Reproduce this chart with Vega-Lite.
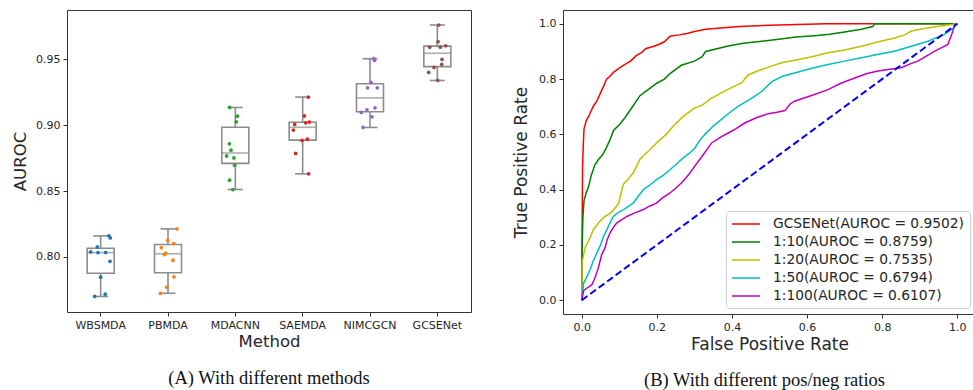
{
  "$schema": "https://vega.github.io/schema/vega-lite/v6.json",
  "background": "white",
  "padding": {"left": 12, "top": 9, "right": 0, "bottom": 0},
  "config": {
    "font": "DejaVu Sans",
    "view": {"stroke": "#333333", "strokeWidth": 1},
    "axis": {"grid": false, "domain": false, "tickColor": "#333333", "tickSize": 4, "labelFontSize": 11, "labelColor": "#262626", "titleColor": "#262626", "titleFontWeight": "normal", "labelPadding": 3, "titlePadding": 4}
  },
  "resolve": {"scale": {"color": "independent"}, "legend": {"color": "independent"}},
  "spacing": 40,
  "hconcat": [
    {
      "width": 404,
      "height": 302,
      "title": {"text": "(A) With different methods", "orient": "bottom", "font": "Liberation Serif", "fontSize": 18.5, "fontWeight": "normal", "color": "#111111", "frame": "group", "anchor": "middle", "offset": 19},
      "data": {"values": [
        {"method": "WBSMDA", "auroc": 0.8160, "jitter": 0.123},
        {"method": "WBSMDA", "auroc": 0.8144, "jitter": 0.142},
        {"method": "WBSMDA", "auroc": 0.8076, "jitter": -0.050},
        {"method": "WBSMDA", "auroc": 0.8038, "jitter": -0.148},
        {"method": "WBSMDA", "auroc": 0.8033, "jitter": -0.040},
        {"method": "WBSMDA", "auroc": 0.8033, "jitter": 0.074},
        {"method": "WBSMDA", "auroc": 0.7967, "jitter": 0.138},
        {"method": "WBSMDA", "auroc": 0.7846, "jitter": 0.0},
        {"method": "WBSMDA", "auroc": 0.7700, "jitter": -0.089},
        {"method": "WBSMDA", "auroc": 0.7717, "jitter": 0.068},
        {"method": "PBMDA", "auroc": 0.8213, "jitter": 0.134},
        {"method": "PBMDA", "auroc": 0.8125, "jitter": -0.004},
        {"method": "PBMDA", "auroc": 0.8102, "jitter": 0.085},
        {"method": "PBMDA", "auroc": 0.8071, "jitter": -0.098},
        {"method": "PBMDA", "auroc": 0.8030, "jitter": -0.034},
        {"method": "PBMDA", "auroc": 0.8018, "jitter": -0.053},
        {"method": "PBMDA", "auroc": 0.7975, "jitter": 0.074},
        {"method": "PBMDA", "auroc": 0.7848, "jitter": 0.089},
        {"method": "PBMDA", "auroc": 0.7770, "jitter": -0.019},
        {"method": "PBMDA", "auroc": 0.7724, "jitter": -0.113},
        {"method": "MDACNN", "auroc": 0.9135, "jitter": -0.085},
        {"method": "MDACNN", "auroc": 0.9069, "jitter": 0.030},
        {"method": "MDACNN", "auroc": 0.9026, "jitter": 0.015},
        {"method": "MDACNN", "auroc": 0.8859, "jitter": -0.089},
        {"method": "MDACNN", "auroc": 0.8811, "jitter": -0.065},
        {"method": "MDACNN", "auroc": 0.8767, "jitter": -0.129},
        {"method": "MDACNN", "auroc": 0.8752, "jitter": -0.021},
        {"method": "MDACNN", "auroc": 0.8697, "jitter": -0.010},
        {"method": "MDACNN", "auroc": 0.8583, "jitter": -0.085},
        {"method": "MDACNN", "auroc": 0.8512, "jitter": -0.036},
        {"method": "SAEMDA", "auroc": 0.9214, "jitter": 0.085},
        {"method": "SAEMDA", "auroc": 0.9071, "jitter": 0.025},
        {"method": "SAEMDA", "auroc": 0.9024, "jitter": 0.099},
        {"method": "SAEMDA", "auroc": 0.9018, "jitter": 0.045},
        {"method": "SAEMDA", "auroc": 0.9006, "jitter": -0.119},
        {"method": "SAEMDA", "auroc": 0.8963, "jitter": -0.138},
        {"method": "SAEMDA", "auroc": 0.8894, "jitter": 0.070},
        {"method": "SAEMDA", "auroc": 0.8885, "jitter": -0.009},
        {"method": "SAEMDA", "auroc": 0.8786, "jitter": -0.104},
        {"method": "SAEMDA", "auroc": 0.8631, "jitter": 0.089},
        {"method": "NIMCGCN", "auroc": 0.9505, "jitter": 0.053},
        {"method": "NIMCGCN", "auroc": 0.9492, "jitter": 0.068},
        {"method": "NIMCGCN", "auroc": 0.9325, "jitter": 0.015},
        {"method": "NIMCGCN", "auroc": 0.9284, "jitter": -0.036},
        {"method": "NIMCGCN", "auroc": 0.9284, "jitter": 0.108},
        {"method": "NIMCGCN", "auroc": 0.9132, "jitter": 0.074},
        {"method": "NIMCGCN", "auroc": 0.9117, "jitter": -0.045},
        {"method": "NIMCGCN", "auroc": 0.9097, "jitter": -0.129},
        {"method": "NIMCGCN", "auroc": 0.9064, "jitter": 0.030},
        {"method": "NIMCGCN", "auroc": 0.8983, "jitter": -0.104},
        {"method": "GCSENet", "auroc": 0.9761, "jitter": 0.021},
        {"method": "GCSENet", "auroc": 0.9634, "jitter": 0.010},
        {"method": "GCSENet", "auroc": 0.9593, "jitter": -0.113},
        {"method": "GCSENet", "auroc": 0.9593, "jitter": 0.045},
        {"method": "GCSENet", "auroc": 0.9603, "jitter": 0.125},
        {"method": "GCSENet", "auroc": 0.9500, "jitter": 0.070},
        {"method": "GCSENet", "auroc": 0.9462, "jitter": 0.065},
        {"method": "GCSENet", "auroc": 0.9439, "jitter": -0.049},
        {"method": "GCSENet", "auroc": 0.9401, "jitter": -0.128},
        {"method": "GCSENet", "auroc": 0.9340, "jitter": 0.006}
      ]},
      "layer": [
        {
          "mark": {"type": "boxplot", "extent": "min-max", "size": 27,
            "box": {"fill": "white", "stroke": "#8c8c8c", "strokeWidth": 1.6},
            "median": {"color": "#8c8c8c", "thickness": 1.6},
            "rule": {"color": "#8c8c8c", "strokeWidth": 1.6},
            "ticks": {"color": "#8c8c8c", "size": 15, "thickness": 1.6}},
          "encoding": {
            "x": {"field": "method", "type": "nominal", "sort": ["WBSMDA", "PBMDA", "MDACNN", "SAEMDA", "NIMCGCN", "GCSENet"], "scale": {"paddingInner": 0, "paddingOuter": 0}, "axis": {"title": "Method", "labelAngle": 0, "titleFontSize": 16.5, "titlePadding": 3}},
            "y": {"field": "auroc", "type": "quantitative", "scale": {"domain": [0.7582, 0.9875], "nice": false, "zero": false}, "axis": {"title": "AUROC", "values": [0.8, 0.85, 0.9, 0.95], "format": ".2f", "titleFontSize": 16.5, "titlePadding": 7}}
          }
        },
        {
          "mark": {"type": "circle", "size": 14, "opacity": 1},
          "encoding": {
            "x": {"field": "method", "type": "nominal", "sort": ["WBSMDA", "PBMDA", "MDACNN", "SAEMDA", "NIMCGCN", "GCSENet"]},
            "xOffset": {"field": "jitter", "type": "quantitative", "scale": {"domain": [-0.5, 0.5]}},
            "y": {"field": "auroc", "type": "quantitative"},
            "color": {"field": "method", "type": "nominal", "scale": {"domain": ["WBSMDA", "PBMDA", "MDACNN", "SAEMDA", "NIMCGCN", "GCSENet"], "range": ["#1f77b4", "#ff7f0e", "#2ca02c", "#d62728", "#9467bd", "#8c564b"]}, "legend": null}
          }
        }
      ]
    },
    {
      "width": 413,
      "height": 304,
      "title": {"text": "(B) With different pos/neg ratios", "orient": "bottom", "font": "Liberation Serif", "fontSize": 18.5, "fontWeight": "normal", "color": "#111111", "frame": "group", "anchor": "middle", "offset": 19, "dx": -5},
      "layer": [
        {
          "data": {"values": [
            {"model": "GCSENet(AUROC = 0.9502)", "fpr": 0, "tpr": 0},
            {"model": "GCSENet(AUROC = 0.9502)", "fpr": 0.001, "tpr": 0.25},
            {"model": "GCSENet(AUROC = 0.9502)", "fpr": 0.002, "tpr": 0.48},
            {"model": "GCSENet(AUROC = 0.9502)", "fpr": 0.004, "tpr": 0.56},
            {"model": "GCSENet(AUROC = 0.9502)", "fpr": 0.006, "tpr": 0.62},
            {"model": "GCSENet(AUROC = 0.9502)", "fpr": 0.012, "tpr": 0.65},
            {"model": "GCSENet(AUROC = 0.9502)", "fpr": 0.02, "tpr": 0.67},
            {"model": "GCSENet(AUROC = 0.9502)", "fpr": 0.03, "tpr": 0.70},
            {"model": "GCSENet(AUROC = 0.9502)", "fpr": 0.04, "tpr": 0.72},
            {"model": "GCSENet(AUROC = 0.9502)", "fpr": 0.05, "tpr": 0.75},
            {"model": "GCSENet(AUROC = 0.9502)", "fpr": 0.06, "tpr": 0.78},
            {"model": "GCSENet(AUROC = 0.9502)", "fpr": 0.066, "tpr": 0.80},
            {"model": "GCSENet(AUROC = 0.9502)", "fpr": 0.075, "tpr": 0.81},
            {"model": "GCSENet(AUROC = 0.9502)", "fpr": 0.085, "tpr": 0.825},
            {"model": "GCSENet(AUROC = 0.9502)", "fpr": 0.1, "tpr": 0.84},
            {"model": "GCSENet(AUROC = 0.9502)", "fpr": 0.115, "tpr": 0.853},
            {"model": "GCSENet(AUROC = 0.9502)", "fpr": 0.13, "tpr": 0.865},
            {"model": "GCSENet(AUROC = 0.9502)", "fpr": 0.145, "tpr": 0.885},
            {"model": "GCSENet(AUROC = 0.9502)", "fpr": 0.16, "tpr": 0.897},
            {"model": "GCSENet(AUROC = 0.9502)", "fpr": 0.17, "tpr": 0.91},
            {"model": "GCSENet(AUROC = 0.9502)", "fpr": 0.19, "tpr": 0.918},
            {"model": "GCSENet(AUROC = 0.9502)", "fpr": 0.205, "tpr": 0.925},
            {"model": "GCSENet(AUROC = 0.9502)", "fpr": 0.22, "tpr": 0.935},
            {"model": "GCSENet(AUROC = 0.9502)", "fpr": 0.235, "tpr": 0.955},
            {"model": "GCSENet(AUROC = 0.9502)", "fpr": 0.26, "tpr": 0.96},
            {"model": "GCSENet(AUROC = 0.9502)", "fpr": 0.28, "tpr": 0.965},
            {"model": "GCSENet(AUROC = 0.9502)", "fpr": 0.3, "tpr": 0.972},
            {"model": "GCSENet(AUROC = 0.9502)", "fpr": 0.33, "tpr": 0.98},
            {"model": "GCSENet(AUROC = 0.9502)", "fpr": 0.37, "tpr": 0.985},
            {"model": "GCSENet(AUROC = 0.9502)", "fpr": 0.42, "tpr": 0.99},
            {"model": "GCSENet(AUROC = 0.9502)", "fpr": 0.5, "tpr": 0.995},
            {"model": "GCSENet(AUROC = 0.9502)", "fpr": 0.6, "tpr": 0.998},
            {"model": "GCSENet(AUROC = 0.9502)", "fpr": 0.65, "tpr": 1.0},
            {"model": "GCSENet(AUROC = 0.9502)", "fpr": 1.0, "tpr": 1.0},
            {"model": "1:10(AUROC = 0.8759)", "fpr": 0, "tpr": 0},
            {"model": "1:10(AUROC = 0.8759)", "fpr": 0.001, "tpr": 0.19},
            {"model": "1:10(AUROC = 0.8759)", "fpr": 0.003, "tpr": 0.30},
            {"model": "1:10(AUROC = 0.8759)", "fpr": 0.006, "tpr": 0.36},
            {"model": "1:10(AUROC = 0.8759)", "fpr": 0.012, "tpr": 0.39},
            {"model": "1:10(AUROC = 0.8759)", "fpr": 0.018, "tpr": 0.41},
            {"model": "1:10(AUROC = 0.8759)", "fpr": 0.025, "tpr": 0.45},
            {"model": "1:10(AUROC = 0.8759)", "fpr": 0.035, "tpr": 0.49},
            {"model": "1:10(AUROC = 0.8759)", "fpr": 0.045, "tpr": 0.51},
            {"model": "1:10(AUROC = 0.8759)", "fpr": 0.055, "tpr": 0.525},
            {"model": "1:10(AUROC = 0.8759)", "fpr": 0.065, "tpr": 0.55},
            {"model": "1:10(AUROC = 0.8759)", "fpr": 0.075, "tpr": 0.58},
            {"model": "1:10(AUROC = 0.8759)", "fpr": 0.085, "tpr": 0.615},
            {"model": "1:10(AUROC = 0.8759)", "fpr": 0.1, "tpr": 0.635},
            {"model": "1:10(AUROC = 0.8759)", "fpr": 0.115, "tpr": 0.66},
            {"model": "1:10(AUROC = 0.8759)", "fpr": 0.135, "tpr": 0.70},
            {"model": "1:10(AUROC = 0.8759)", "fpr": 0.155, "tpr": 0.74},
            {"model": "1:10(AUROC = 0.8759)", "fpr": 0.175, "tpr": 0.76},
            {"model": "1:10(AUROC = 0.8759)", "fpr": 0.2, "tpr": 0.785},
            {"model": "1:10(AUROC = 0.8759)", "fpr": 0.22, "tpr": 0.80},
            {"model": "1:10(AUROC = 0.8759)", "fpr": 0.235, "tpr": 0.82},
            {"model": "1:10(AUROC = 0.8759)", "fpr": 0.265, "tpr": 0.85},
            {"model": "1:10(AUROC = 0.8759)", "fpr": 0.3, "tpr": 0.865},
            {"model": "1:10(AUROC = 0.8759)", "fpr": 0.32, "tpr": 0.88},
            {"model": "1:10(AUROC = 0.8759)", "fpr": 0.33, "tpr": 0.90},
            {"model": "1:10(AUROC = 0.8759)", "fpr": 0.36, "tpr": 0.91},
            {"model": "1:10(AUROC = 0.8759)", "fpr": 0.39, "tpr": 0.92},
            {"model": "1:10(AUROC = 0.8759)", "fpr": 0.43, "tpr": 0.93},
            {"model": "1:10(AUROC = 0.8759)", "fpr": 0.48, "tpr": 0.937},
            {"model": "1:10(AUROC = 0.8759)", "fpr": 0.53, "tpr": 0.945},
            {"model": "1:10(AUROC = 0.8759)", "fpr": 0.57, "tpr": 0.952},
            {"model": "1:10(AUROC = 0.8759)", "fpr": 0.62, "tpr": 0.957},
            {"model": "1:10(AUROC = 0.8759)", "fpr": 0.66, "tpr": 0.962},
            {"model": "1:10(AUROC = 0.8759)", "fpr": 0.7, "tpr": 0.97},
            {"model": "1:10(AUROC = 0.8759)", "fpr": 0.745, "tpr": 0.98},
            {"model": "1:10(AUROC = 0.8759)", "fpr": 0.775, "tpr": 0.99},
            {"model": "1:10(AUROC = 0.8759)", "fpr": 0.78, "tpr": 1.0},
            {"model": "1:10(AUROC = 0.8759)", "fpr": 1.0, "tpr": 1.0},
            {"model": "1:20(AUROC = 0.7535)", "fpr": 0, "tpr": 0},
            {"model": "1:20(AUROC = 0.7535)", "fpr": 0.001, "tpr": 0.14},
            {"model": "1:20(AUROC = 0.7535)", "fpr": 0.009, "tpr": 0.19},
            {"model": "1:20(AUROC = 0.7535)", "fpr": 0.02, "tpr": 0.22},
            {"model": "1:20(AUROC = 0.7535)", "fpr": 0.031, "tpr": 0.255},
            {"model": "1:20(AUROC = 0.7535)", "fpr": 0.045, "tpr": 0.28},
            {"model": "1:20(AUROC = 0.7535)", "fpr": 0.058, "tpr": 0.30},
            {"model": "1:20(AUROC = 0.7535)", "fpr": 0.071, "tpr": 0.31},
            {"model": "1:20(AUROC = 0.7535)", "fpr": 0.084, "tpr": 0.325},
            {"model": "1:20(AUROC = 0.7535)", "fpr": 0.098, "tpr": 0.35},
            {"model": "1:20(AUROC = 0.7535)", "fpr": 0.105, "tpr": 0.39},
            {"model": "1:20(AUROC = 0.7535)", "fpr": 0.111, "tpr": 0.42},
            {"model": "1:20(AUROC = 0.7535)", "fpr": 0.125, "tpr": 0.44},
            {"model": "1:20(AUROC = 0.7535)", "fpr": 0.137, "tpr": 0.46},
            {"model": "1:20(AUROC = 0.7535)", "fpr": 0.155, "tpr": 0.51},
            {"model": "1:20(AUROC = 0.7535)", "fpr": 0.17, "tpr": 0.53},
            {"model": "1:20(AUROC = 0.7535)", "fpr": 0.182, "tpr": 0.545},
            {"model": "1:20(AUROC = 0.7535)", "fpr": 0.208, "tpr": 0.58},
            {"model": "1:20(AUROC = 0.7535)", "fpr": 0.225, "tpr": 0.60},
            {"model": "1:20(AUROC = 0.7535)", "fpr": 0.244, "tpr": 0.63},
            {"model": "1:20(AUROC = 0.7535)", "fpr": 0.27, "tpr": 0.665},
            {"model": "1:20(AUROC = 0.7535)", "fpr": 0.3, "tpr": 0.695},
            {"model": "1:20(AUROC = 0.7535)", "fpr": 0.32, "tpr": 0.705},
            {"model": "1:20(AUROC = 0.7535)", "fpr": 0.345, "tpr": 0.73},
            {"model": "1:20(AUROC = 0.7535)", "fpr": 0.372, "tpr": 0.75},
            {"model": "1:20(AUROC = 0.7535)", "fpr": 0.4, "tpr": 0.77},
            {"model": "1:20(AUROC = 0.7535)", "fpr": 0.426, "tpr": 0.786},
            {"model": "1:20(AUROC = 0.7535)", "fpr": 0.443, "tpr": 0.815},
            {"model": "1:20(AUROC = 0.7535)", "fpr": 0.47, "tpr": 0.83},
            {"model": "1:20(AUROC = 0.7535)", "fpr": 0.505, "tpr": 0.847},
            {"model": "1:20(AUROC = 0.7535)", "fpr": 0.535, "tpr": 0.86},
            {"model": "1:20(AUROC = 0.7535)", "fpr": 0.567, "tpr": 0.868},
            {"model": "1:20(AUROC = 0.7535)", "fpr": 0.61, "tpr": 0.88},
            {"model": "1:20(AUROC = 0.7535)", "fpr": 0.656, "tpr": 0.895},
            {"model": "1:20(AUROC = 0.7535)", "fpr": 0.7, "tpr": 0.905},
            {"model": "1:20(AUROC = 0.7535)", "fpr": 0.745, "tpr": 0.919},
            {"model": "1:20(AUROC = 0.7535)", "fpr": 0.79, "tpr": 0.935},
            {"model": "1:20(AUROC = 0.7535)", "fpr": 0.833, "tpr": 0.949},
            {"model": "1:20(AUROC = 0.7535)", "fpr": 0.86, "tpr": 0.96},
            {"model": "1:20(AUROC = 0.7535)", "fpr": 0.878, "tpr": 0.974},
            {"model": "1:20(AUROC = 0.7535)", "fpr": 0.92, "tpr": 0.985},
            {"model": "1:20(AUROC = 0.7535)", "fpr": 0.957, "tpr": 0.992},
            {"model": "1:20(AUROC = 0.7535)", "fpr": 1.0, "tpr": 1.0},
            {"model": "1:50(AUROC = 0.6794)", "fpr": 0, "tpr": 0},
            {"model": "1:50(AUROC = 0.6794)", "fpr": 0.005, "tpr": 0.062},
            {"model": "1:50(AUROC = 0.6794)", "fpr": 0.012, "tpr": 0.08},
            {"model": "1:50(AUROC = 0.6794)", "fpr": 0.022, "tpr": 0.11},
            {"model": "1:50(AUROC = 0.6794)", "fpr": 0.03, "tpr": 0.14},
            {"model": "1:50(AUROC = 0.6794)", "fpr": 0.04, "tpr": 0.17},
            {"model": "1:50(AUROC = 0.6794)", "fpr": 0.05, "tpr": 0.20},
            {"model": "1:50(AUROC = 0.6794)", "fpr": 0.058, "tpr": 0.231},
            {"model": "1:50(AUROC = 0.6794)", "fpr": 0.065, "tpr": 0.25},
            {"model": "1:50(AUROC = 0.6794)", "fpr": 0.075, "tpr": 0.279},
            {"model": "1:50(AUROC = 0.6794)", "fpr": 0.084, "tpr": 0.303},
            {"model": "1:50(AUROC = 0.6794)", "fpr": 0.095, "tpr": 0.315},
            {"model": "1:50(AUROC = 0.6794)", "fpr": 0.111, "tpr": 0.328},
            {"model": "1:50(AUROC = 0.6794)", "fpr": 0.125, "tpr": 0.34},
            {"model": "1:50(AUROC = 0.6794)", "fpr": 0.137, "tpr": 0.351},
            {"model": "1:50(AUROC = 0.6794)", "fpr": 0.15, "tpr": 0.375},
            {"model": "1:50(AUROC = 0.6794)", "fpr": 0.164, "tpr": 0.40},
            {"model": "1:50(AUROC = 0.6794)", "fpr": 0.18, "tpr": 0.415},
            {"model": "1:50(AUROC = 0.6794)", "fpr": 0.199, "tpr": 0.436},
            {"model": "1:50(AUROC = 0.6794)", "fpr": 0.215, "tpr": 0.45},
            {"model": "1:50(AUROC = 0.6794)", "fpr": 0.235, "tpr": 0.472},
            {"model": "1:50(AUROC = 0.6794)", "fpr": 0.25, "tpr": 0.49},
            {"model": "1:50(AUROC = 0.6794)", "fpr": 0.27, "tpr": 0.515},
            {"model": "1:50(AUROC = 0.6794)", "fpr": 0.285, "tpr": 0.53},
            {"model": "1:50(AUROC = 0.6794)", "fpr": 0.301, "tpr": 0.55},
            {"model": "1:50(AUROC = 0.6794)", "fpr": 0.315, "tpr": 0.58},
            {"model": "1:50(AUROC = 0.6794)", "fpr": 0.328, "tpr": 0.60},
            {"model": "1:50(AUROC = 0.6794)", "fpr": 0.35, "tpr": 0.63},
            {"model": "1:50(AUROC = 0.6794)", "fpr": 0.372, "tpr": 0.654},
            {"model": "1:50(AUROC = 0.6794)", "fpr": 0.395, "tpr": 0.68},
            {"model": "1:50(AUROC = 0.6794)", "fpr": 0.417, "tpr": 0.702},
            {"model": "1:50(AUROC = 0.6794)", "fpr": 0.44, "tpr": 0.72},
            {"model": "1:50(AUROC = 0.6794)", "fpr": 0.461, "tpr": 0.738},
            {"model": "1:50(AUROC = 0.6794)", "fpr": 0.48, "tpr": 0.756},
            {"model": "1:50(AUROC = 0.6794)", "fpr": 0.505, "tpr": 0.79},
            {"model": "1:50(AUROC = 0.6794)", "fpr": 0.535, "tpr": 0.81},
            {"model": "1:50(AUROC = 0.6794)", "fpr": 0.567, "tpr": 0.822},
            {"model": "1:50(AUROC = 0.6794)", "fpr": 0.61, "tpr": 0.838},
            {"model": "1:50(AUROC = 0.6794)", "fpr": 0.656, "tpr": 0.853},
            {"model": "1:50(AUROC = 0.6794)", "fpr": 0.7, "tpr": 0.865},
            {"model": "1:50(AUROC = 0.6794)", "fpr": 0.745, "tpr": 0.877},
            {"model": "1:50(AUROC = 0.6794)", "fpr": 0.79, "tpr": 0.89},
            {"model": "1:50(AUROC = 0.6794)", "fpr": 0.833, "tpr": 0.901},
            {"model": "1:50(AUROC = 0.6794)", "fpr": 0.88, "tpr": 0.92},
            {"model": "1:50(AUROC = 0.6794)", "fpr": 0.922, "tpr": 0.937},
            {"model": "1:50(AUROC = 0.6794)", "fpr": 0.945, "tpr": 0.95},
            {"model": "1:50(AUROC = 0.6794)", "fpr": 0.966, "tpr": 0.962},
            {"model": "1:50(AUROC = 0.6794)", "fpr": 0.99, "tpr": 0.985},
            {"model": "1:50(AUROC = 0.6794)", "fpr": 1.0, "tpr": 1.0},
            {"model": "1:100(AUROC = 0.6107)", "fpr": 0, "tpr": 0},
            {"model": "1:100(AUROC = 0.6107)", "fpr": 0.005, "tpr": 0.035},
            {"model": "1:100(AUROC = 0.6107)", "fpr": 0.015, "tpr": 0.045},
            {"model": "1:100(AUROC = 0.6107)", "fpr": 0.027, "tpr": 0.056},
            {"model": "1:100(AUROC = 0.6107)", "fpr": 0.035, "tpr": 0.08},
            {"model": "1:100(AUROC = 0.6107)", "fpr": 0.044, "tpr": 0.116},
            {"model": "1:100(AUROC = 0.6107)", "fpr": 0.053, "tpr": 0.164},
            {"model": "1:100(AUROC = 0.6107)", "fpr": 0.062, "tpr": 0.19},
            {"model": "1:100(AUROC = 0.6107)", "fpr": 0.068, "tpr": 0.22},
            {"model": "1:100(AUROC = 0.6107)", "fpr": 0.075, "tpr": 0.243},
            {"model": "1:100(AUROC = 0.6107)", "fpr": 0.085, "tpr": 0.265},
            {"model": "1:100(AUROC = 0.6107)", "fpr": 0.093, "tpr": 0.279},
            {"model": "1:100(AUROC = 0.6107)", "fpr": 0.105, "tpr": 0.29},
            {"model": "1:100(AUROC = 0.6107)", "fpr": 0.12, "tpr": 0.303},
            {"model": "1:100(AUROC = 0.6107)", "fpr": 0.14, "tpr": 0.315},
            {"model": "1:100(AUROC = 0.6107)", "fpr": 0.164, "tpr": 0.328},
            {"model": "1:100(AUROC = 0.6107)", "fpr": 0.18, "tpr": 0.34},
            {"model": "1:100(AUROC = 0.6107)", "fpr": 0.199, "tpr": 0.351},
            {"model": "1:100(AUROC = 0.6107)", "fpr": 0.215, "tpr": 0.37},
            {"model": "1:100(AUROC = 0.6107)", "fpr": 0.235, "tpr": 0.388},
            {"model": "1:100(AUROC = 0.6107)", "fpr": 0.25, "tpr": 0.405},
            {"model": "1:100(AUROC = 0.6107)", "fpr": 0.27, "tpr": 0.43},
            {"model": "1:100(AUROC = 0.6107)", "fpr": 0.285, "tpr": 0.455},
            {"model": "1:100(AUROC = 0.6107)", "fpr": 0.301, "tpr": 0.485},
            {"model": "1:100(AUROC = 0.6107)", "fpr": 0.32, "tpr": 0.52},
            {"model": "1:100(AUROC = 0.6107)", "fpr": 0.346, "tpr": 0.569},
            {"model": "1:100(AUROC = 0.6107)", "fpr": 0.37, "tpr": 0.59},
            {"model": "1:100(AUROC = 0.6107)", "fpr": 0.39, "tpr": 0.605},
            {"model": "1:100(AUROC = 0.6107)", "fpr": 0.41, "tpr": 0.62},
            {"model": "1:100(AUROC = 0.6107)", "fpr": 0.434, "tpr": 0.641},
            {"model": "1:100(AUROC = 0.6107)", "fpr": 0.465, "tpr": 0.66},
            {"model": "1:100(AUROC = 0.6107)", "fpr": 0.497, "tpr": 0.675},
            {"model": "1:100(AUROC = 0.6107)", "fpr": 0.52, "tpr": 0.68},
            {"model": "1:100(AUROC = 0.6107)", "fpr": 0.541, "tpr": 0.686},
            {"model": "1:100(AUROC = 0.6107)", "fpr": 0.555, "tpr": 0.71},
            {"model": "1:100(AUROC = 0.6107)", "fpr": 0.567, "tpr": 0.72},
            {"model": "1:100(AUROC = 0.6107)", "fpr": 0.61, "tpr": 0.74},
            {"model": "1:100(AUROC = 0.6107)", "fpr": 0.656, "tpr": 0.762},
            {"model": "1:100(AUROC = 0.6107)", "fpr": 0.69, "tpr": 0.785},
            {"model": "1:100(AUROC = 0.6107)", "fpr": 0.727, "tpr": 0.804},
            {"model": "1:100(AUROC = 0.6107)", "fpr": 0.76, "tpr": 0.82},
            {"model": "1:100(AUROC = 0.6107)", "fpr": 0.789, "tpr": 0.829},
            {"model": "1:100(AUROC = 0.6107)", "fpr": 0.82, "tpr": 0.836},
            {"model": "1:100(AUROC = 0.6107)", "fpr": 0.851, "tpr": 0.841},
            {"model": "1:100(AUROC = 0.6107)", "fpr": 0.875, "tpr": 0.855},
            {"model": "1:100(AUROC = 0.6107)", "fpr": 0.895, "tpr": 0.865},
            {"model": "1:100(AUROC = 0.6107)", "fpr": 0.92, "tpr": 0.885},
            {"model": "1:100(AUROC = 0.6107)", "fpr": 0.94, "tpr": 0.901},
            {"model": "1:100(AUROC = 0.6107)", "fpr": 0.96, "tpr": 0.915},
            {"model": "1:100(AUROC = 0.6107)", "fpr": 0.975, "tpr": 0.925},
            {"model": "1:100(AUROC = 0.6107)", "fpr": 0.985, "tpr": 0.96},
            {"model": "1:100(AUROC = 0.6107)", "fpr": 0.993, "tpr": 0.995},
            {"model": "1:100(AUROC = 0.6107)", "fpr": 1.0, "tpr": 1.0}
          ]},
          "mark": {"type": "line", "strokeWidth": 1.5},
          "encoding": {
            "x": {"field": "fpr", "type": "quantitative", "scale": {"domain": [-0.05, 1.05], "nice": false, "zero": false}, "axis": {"title": "False Positive Rate", "values": [0, 0.2, 0.4, 0.6, 0.8, 1.0], "format": ".1f", "titleFontSize": 17, "titlePadding": 4}},
            "y": {"field": "tpr", "type": "quantitative", "scale": {"domain": [-0.05, 1.05], "nice": false, "zero": false}, "axis": {"title": "True Positive Rate", "values": [0, 0.2, 0.4, 0.6, 0.8, 1.0], "format": ".1f", "titleFontSize": 17, "titlePadding": 8}},
            "color": {"field": "model", "type": "nominal",
              "scale": {"domain": ["GCSENet(AUROC = 0.9502)", "1:10(AUROC = 0.8759)", "1:20(AUROC = 0.7535)", "1:50(AUROC = 0.6794)", "1:100(AUROC = 0.6107)"], "range": ["#ff0000", "#008000", "#bfbf00", "#00bfbf", "#bf00bf"]},
              "legend": {"title": null, "orient": "bottom-right", "offset": 6, "symbolType": "M-1,0H3", "symbolSize": 196, "symbolStrokeWidth": 1.5, "labelFontSize": 13.8, "labelFont": "DejaVu Sans", "labelColor": "#262626", "labelOffset": 26, "labelLimit": 400, "rowPadding": 3, "padding": 5, "fillColor": "rgba(255,255,255,0.8)", "strokeColor": "#cccccc", "cornerRadius": 3}}
          }
        },
        {
          "data": {"values": [{"fpr": 0, "tpr": 0}, {"fpr": 1, "tpr": 1}]},
          "mark": {"type": "line", "color": "#0000ff", "strokeDash": [7, 3.5], "strokeWidth": 2},
          "encoding": {
            "x": {"field": "fpr", "type": "quantitative"},
            "y": {"field": "tpr", "type": "quantitative"}
          }
        }
      ]
    }
  ]
}
